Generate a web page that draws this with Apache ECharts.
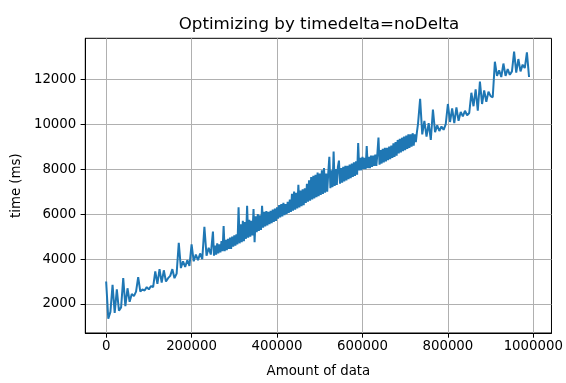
<!DOCTYPE html>
<html>
<head>
<meta charset="utf-8">
<script src="https://cdn.jsdelivr.net/npm/echarts@6/dist/echarts.min.js"></script>
<style>
html,body{margin:0;padding:0;background:#fff;}
#chart{width:566px;height:383px;}
</style>
</head>
<body>
<div id="chart"></div>
<script>
const titleText = 'Optimizing by timedelta=noDelta';
const xName = 'Amount of data';
const yName = 'time (ms)';
const xTicks = [0, 200000, 400000, 600000, 800000, 1000000];
const yTicks = [2000, 4000, 6000, 8000, 10000, 12000];

// [amount of data, time (ms)] samples
const earlySamples = [
  [0,3000],[5000,1350],[10000,1650],[15000,2850],[20000,1600],[25000,2650],[30000,1700],[35000,1850],[40000,3150],[45000,1900],
  [50000,2700],[55000,2100],[60000,2450],[65000,2350],[70000,2550],[75000,3200],[80000,2550],[85000,2650],[90000,2600],[95000,2750],
  [100000,2650],[105000,2800],[110000,2750],[115000,3450],[120000,2900],[125000,3550],[130000,2950],[135000,3500],[140000,3000],[145000,3150],
  [150000,3250],[155000,3550],[160000,3150],[165000,3350],[170000,4720],[175000,3600],[180000,3900],[185000,3650],[190000,3950],[195000,3700],
  [200000,4650],[205000,3900],[210000,4200],[215000,3950],[220000,4250],[225000,4000],[230000,5440],[235000,4150],[240000,4500],[245000,4200]
];

const middleSamples = [
  [250000,5225],[252500,4150],[255000,4600],[257500,4200],[260000,4700],[262500,4250],[265000,4650],[267500,4300],[270000,4800],[272500,4350],
  [275000,5470],[277500,4350],[280000,4850],[282500,4400],[285000,4900],[287500,4450],[290000,4950],[292500,4450],[295000,5000],[297500,4550],
  [300000,5050],[302500,4600],[305000,5100],[307500,4650],[310000,6300],[312500,4700],[315000,5550],[317500,4750],[320000,5700],[322500,4800],
  [325000,5650],[327500,4900],[330000,6370],[332500,4950],[335000,5750],[337500,5000],[340000,5700],[342500,5050],[345000,6230],[347500,4750],
  [350000,5900],[352500,5200],[355000,6000],[357500,5250],[360000,5950],[362500,5300],[365000,6370],[367500,5400],[370000,6100],[372500,5450],
  [375000,6130],[377500,5500],[380000,6100],[382500,5550],[385000,6150],[387500,5600],[390000,6200],[392500,5650],[395000,6250],[397500,5700],
  [400000,6300],[402500,5800],[405000,6400],[407500,5850],[410000,6450],[412500,5900],[415000,6500],[417500,5950],[420000,6450],[422500,6000],
  [425000,6550],[427500,6050],[430000,6650],[432500,6100],[435000,6900],[437500,6150],[440000,7000],[442500,6200],[445000,6950],[447500,6250],
  [450000,7300],[452500,6300],[455000,7050],[457500,6350],[460000,7100],[462500,6400],[465000,7150],[467500,6500],[470000,7350],[472500,6550],
  [475000,7500],[477500,6600],[480000,7650],[482500,6650],[485000,7700],[487500,6700],[490000,7750],[492500,6750],[495000,7850],[497500,6800],
  [500000,7800],[502500,6850],[505000,7950],[507500,6900],[510000,8050],[512500,6950],[515000,7800],[517500,7000],[520000,7850],[522500,8550],
  [525000,7150],[527500,7950],[530000,7200],[532500,8780],[535000,7250],[537500,8000],[540000,7300],[542500,8100],[545000,8380],[547500,7350],
  [550000,8050],[552500,7400],[555000,8100],[557500,7450],[560000,8150],[562500,7500],[565000,8150],[567500,7550],[570000,8200],[572500,7600],
  [575000,8250],[577500,7650],[580000,8300],[582500,7700],[585000,8350],[587500,7750],[590000,9165],[592500,7950],[595000,8500],[597500,7950],
  [600000,8550],[602500,8000],[605000,8500],[607500,8000],[610000,9030],[612500,8050],[615000,8550],[617500,8050],[620000,8600],[622500,8100],
  [625000,8600],[627500,8150],[630000,8650],[632500,8150],[635000,8700],[637500,9410],[640000,8200],[642500,8850],[645000,8250],[647500,8900],
  [650000,8300],[652500,8950],[655000,8350],[657500,8950],[660000,8400],[662500,9000],[665000,8450],[667500,9050],[670000,8500],[672500,9150],
  [675000,8550],[677500,9200],[680000,8600],[682500,9300],[685000,8700],[687500,9350],[690000,8750],[692500,9400],[695000,8800],[697500,9450],
  [700000,8850],[702500,9500],[705000,8900],[707500,9550],[710000,8950],[712500,9550],[715000,9000],[717500,9600],[720000,9050],[722500,9550],
  [725000,9200],[727500,9650],[730000,10000]
];

const lateSamples = [
  [735000,11130],[740000,9550],[745000,10150],[750000,9450],[755000,10050],[760000,9300],[765000,10650],[770000,9650],[775000,9950],[780000,9700],
  [785000,9900],[790000,9750],[795000,10000],[800000,10900],[805000,10100],[810000,10700],[815000,10050],[820000,10750],[825000,10150],[830000,10550],
  [835000,10350],[840000,10600],[845000,10400],[850000,10500],[855000,11400],[860000,10800],[865000,11550],[870000,10600],[875000,11900],[880000,10900],
  [885000,11500],[890000,11000],[895000,11450],[900000,11250],[905000,11200],[910000,12780],[915000,12150],[920000,12400],[925000,12100],[930000,12700],
  [935000,12150],[940000,12450],[945000,12200],[950000,12350],[955000,13230],[960000,12300],[965000,12900],[970000,12350],[975000,12650],[980000,12500],
  [985000,13200],[990000,12100]
];

const seriesData = earlySamples.concat(middleSamples, lateSamples);

const font = 'DejaVu Sans';
const chart = echarts.init(document.getElementById('chart'), null, {renderer: 'canvas'});
chart.setOption({
  animation: false,
  backgroundColor: '#ffffff',
  title: {
    text: titleText,
    left: 314,
    top: 11.6,
    textAlign: 'center',
    textStyle: {fontFamily: font, fontSize: 16.7, fontWeight: 'normal', color: '#000'}
  },
  grid: {
    left: 85.3, right: 10.7, top: 38.3, bottom: 39.7,
    show: true, borderColor: '#000', borderWidth: 1, backgroundColor: 'transparent'
  },
  xAxis: {
    type: 'value',
    min: -48800, max: 1042500,
    splitNumber: 5,
    name: xName,
    nameLocation: 'middle',
    nameGap: 32,
    nameTextStyle: {fontFamily: font, fontSize: 13.33, color: '#000'},
    axisLine: {show: true, onZero: false, lineStyle: {color: '#000', width: 1}},
    axisTick: {show: true, inside: false, length: 4.7, customValues: xTicks, lineStyle: {color: '#000', width: 1}},
    axisLabel: {show: true, margin: 7, customValues: xTicks, formatter: v => String(v), fontFamily: font, fontSize: 13.33, color: '#000'},
    splitLine: {show: true, lineStyle: {color: '#b0b0b0', width: 1}}
  },
  yAxis: {
    type: 'value',
    min: 710, max: 13823,
    splitNumber: 6,
    name: yName,
    nameLocation: 'middle',
    nameGap: 62,
    nameTextStyle: {fontFamily: font, fontSize: 13.33, color: '#000'},
    axisLine: {show: true, onZero: false, lineStyle: {color: '#000', width: 1}},
    axisTick: {show: true, inside: false, length: 4.7, customValues: yTicks, lineStyle: {color: '#000', width: 1}},
    axisLabel: {show: true, margin: 9, customValues: yTicks, formatter: v => String(v), fontFamily: font, fontSize: 13.33, color: '#000'},
    splitLine: {show: true, lineStyle: {color: '#b0b0b0', width: 1}}
  },
  series: [{
    type: 'line',
    data: seriesData,
    showSymbol: false,
    symbol: 'none',
    lineStyle: {color: '#1f77b4', width: 2},
    itemStyle: {color: '#1f77b4'},
    z: 3
  }]
});
</script>
</body>
</html>
